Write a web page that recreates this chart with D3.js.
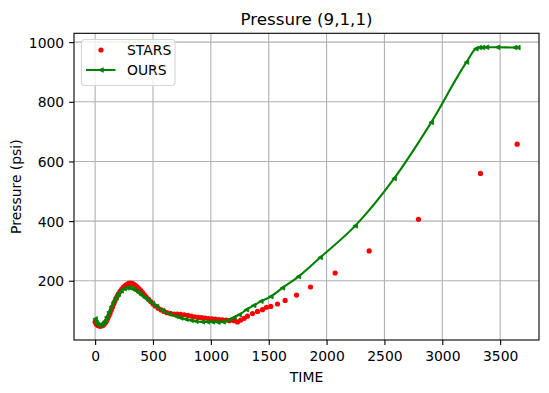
<!DOCTYPE html>
<html><head><meta charset="utf-8">
<script src="https://cdn.jsdelivr.net/npm/d3@7"></script>
<style>body{margin:0;background:#fff;}svg{display:block;font-family:"DejaVu Sans",sans-serif;}</style>
</head><body>
<script>
const starsTime = [0,10,20,30,40,50,60,70,80,90,100,110,120,130,140,150,160,170,180,190,200,215,230,245,260,275,290,305,320,335,350,365,380,395,410,425,440,460,480,500,520,545,570,595,620,650,680,710,740,770,800,830,860,890,920,950,980,1010,1040,1070,1100,1130,1160,1201,1230,1259,1288,1316,1360,1403,1446,1481,1518,1576,1642,1740,1861,2074,2368,2794,3330,3647];
const starsP    = [62,55,51,49,48,48,49,51,55,60,66,74,83,92,102,112,122,131,140,148,155,164,172,179,184,188,191,192,191,188,184,179,173,167,160,153,146,138,130,122,115,108,102,97,93,90,88,88,87,86,84,81,79,77,76,75,73,72,71,70,69,68,66,66,62,68,74,81,90,97,103,111,114,122,134,152,179,226,300,406,560,658];
const oursTime = [0,10,20,35,50,65,80,100,120,140,160,180,200,225,250,275,300,325,350,375,400,430,460,495,530,582,640,697,740,784,830,870,927,970,1014,1060,1106,1158,1200,1245,1308,1370,1432,1518,1619,1757,1945,2247,2584,2904,3209,3290,3320,3347,3382,3477,3625,3653];
const oursP    = [72,60,54,51,52,56,63,78,95,112,128,143,155,166,173,176,176,173,167,160,152,143,134,124,114,100,89,81,75,71,67,64,62,62,62,61,62,69,77,86,103,117,131,147,176,214,278,384,543,731,933,978,982,982,983,983,982,982];
const xTicks = [0,500,1000,1500,2000,2500,3000,3500];
const yTicks = [200,400,600,800,1000];
const seriesNames = ["STARS","OURS"];

const W = 549, H = 393;
const L = 74, R = 539, T = 33.3, B = 340;
const svg = d3.select("body").append("svg").attr("width", W).attr("height", H);

const stars = starsTime.map((t,i)=>({t, p: starsP[i]}));
const ours = oursTime.map((t,i)=>({t, p: oursP[i]}));
const allT = starsTime.concat(oursTime), allP = starsP.concat(oursP);
const [tmin,tmax] = d3.extent(allT), [pmin,pmax] = d3.extent(allP);
const tpad = (tmax-tmin)*0.05, ppad = (pmax-pmin)*0.05;
const x = d3.scaleLinear().domain([tmin-tpad, tmax+tpad]).range([L, R]);
const y = d3.scaleLinear().domain([pmin-ppad, pmax+ppad]).range([B, T]);

// grid
const g = svg.append("g");
g.selectAll(".gx").data(xTicks).enter().append("line")
  .attr("x1", d=>x(d)).attr("x2", d=>x(d)).attr("y1", T).attr("y2", B)
  .attr("stroke", "#b0b0b0").attr("stroke-width", 1.1);
g.selectAll(".gy").data(yTicks).enter().append("line")
  .attr("y1", d=>y(d)).attr("y2", d=>y(d)).attr("x1", L).attr("x2", R)
  .attr("stroke", "#b0b0b0").attr("stroke-width", 1.1);

svg.append("defs").append("clipPath").attr("id","clip")
  .append("rect").attr("x",L).attr("y",T).attr("width",R-L).attr("height",B-T);
const plot = svg.append("g").attr("clip-path","url(#clip)");

// STARS dots
plot.selectAll(".s").data(stars).enter().append("circle")
  .attr("cx", d=>x(d.t)).attr("cy", d=>y(d.p)).attr("r", 2.6).attr("fill", "#ff0000");

// OURS line
const line = d3.line().x(d=>x(d.t)).y(d=>y(d.p)).curve(d3.curveMonotoneX);
plot.append("path").datum(ours).attr("d", line).attr("fill","none")
  .attr("stroke","#008000").attr("stroke-width",2.08).attr("stroke-linejoin","round");
const tri = (cx,cy,s)=>`M${cx-s},${cy}L${cx+s},${cy-s}L${cx+s},${cy+s}Z`;
plot.selectAll(".m").data(ours).enter().append("path")
  .attr("d", d=>tri(x(d.t), y(d.p), 2.3)).attr("fill","#008000").attr("stroke","#008000").attr("stroke-width",0.8);

// spines
svg.append("rect").attr("x",L).attr("y",T).attr("width",R-L).attr("height",B-T)
  .attr("fill","none").attr("stroke","#000").attr("stroke-width",1.1);

// axes
const fmt = d3.format("d");
const xAxis = d3.axisBottom(x).tickValues(xTicks).tickFormat(fmt).tickSizeOuter(0).tickSize(4.9).tickPadding(4.9);
const xa = svg.append("g").attr("transform",`translate(0,${B})`).call(xAxis);
const yAxis = d3.axisLeft(y).tickValues(yTicks).tickFormat(fmt).tickSizeOuter(0).tickSize(4.9).tickPadding(4.9);
const ya = svg.append("g").attr("transform",`translate(${L},0)`).call(yAxis);
[xa, ya].forEach(a=>{
  a.select(".domain").remove();
  a.selectAll(".tick line").attr("stroke","#000").attr("stroke-width",1.1);
  a.selectAll(".tick text").attr("fill","#000").style("font-size","13.9px").style("font-family","DejaVu Sans");
});
xa.selectAll(".tick text").attr("dy", null).attr("y", 21).attr("dominant-baseline","alphabetic");
ya.selectAll(".tick text").attr("dy", null).attr("dominant-baseline","alphabetic").attr("y", 5);

// labels
svg.append("text").attr("x",(L+R)/2).attr("y",25).attr("text-anchor","middle")
  .style("font-size","16.7px").text("Pressure (9,1,1)");
svg.append("text").attr("x",(L+R)/2).attr("y",382).attr("text-anchor","middle")
  .style("font-size","13.9px").text("TIME");
svg.append("text").attr("transform",`translate(20.5,${(T+B)/2}) rotate(-90)`).attr("text-anchor","middle")
  .style("font-size","13.9px").text("Pressure (psi)");

// legend
const lg = svg.append("g");
lg.append("rect").attr("x",81.5).attr("y",39.5).attr("width",93.5).attr("height",46).attr("rx",3)
  .attr("fill","#fff").attr("fill-opacity",0.8).attr("stroke","#d6d6d6").attr("stroke-width",1.1);
lg.append("circle").attr("cx",101).attr("cy",50).attr("r",2.6).attr("fill","#ff0000");
lg.append("line").attr("x1",86).attr("x2",115.5).attr("y1",70).attr("y2",70).attr("stroke","#008000").attr("stroke-width",2.08);
lg.append("path").attr("d",tri(101,70,2.3)).attr("fill","#008000").attr("stroke","#008000").attr("stroke-width",0.8);
lg.selectAll(".lt").data(seriesNames).enter().append("text")
  .attr("x",127).attr("y",(d,i)=>55+i*20).style("font-size","13.9px").text(d=>d);
</script>
</body></html>
